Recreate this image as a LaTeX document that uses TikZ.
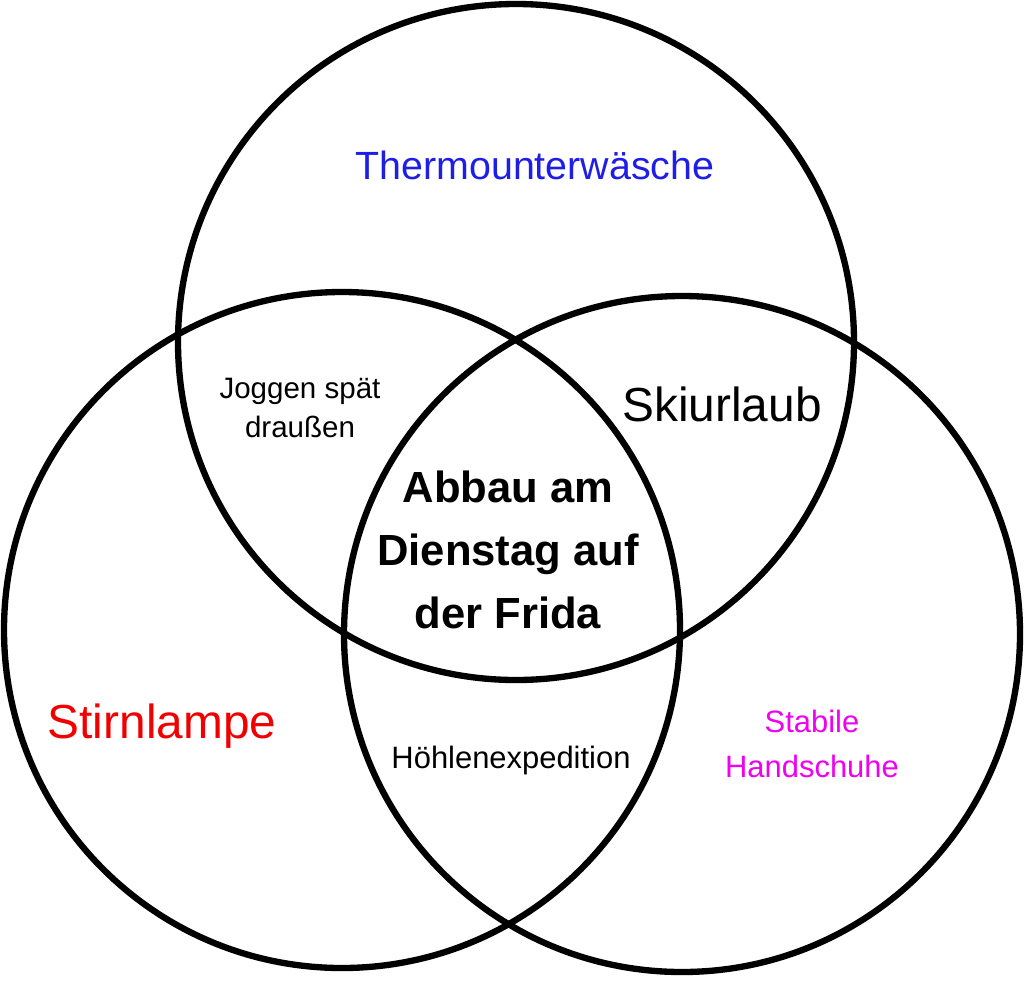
\documentclass[tikz,border=0pt]{standalone}
\usepackage{fontspec}
\setmainfont{Liberation Sans}
\begin{document}
\begin{tikzpicture}[x=0.025cm,y=-0.025cm,
  ring/.style={draw=black,line width=4.5pt},
  lbl/.style={align=center,inner sep=0pt}]
\useasboundingbox (0,0) rectangle (1024,980);
\node[ring,circle,minimum size=676*0.025cm] (top) at (516,342) {};
\node[ring,circle,minimum size=676*0.025cm] (left) at (342,630) {};
\node[ring,circle,minimum size=676*0.025cm] (right) at (682,634) {};
\node[lbl,text={rgb,255:red,30;green,30;blue,230},font=\fontsize{28}{30}\selectfont] (t1) at (535,165) {Thermounterwäsche};
\node[lbl,font=\fontsize{34}{36}\selectfont] (t2) at (722,404) {Skiurlaub};
\node[lbl,font=\fontsize{21}{28}\selectfont] (t3) at (300,408) {Joggen spät\\draußen};
\node[lbl,font=\bfseries\fontsize{31}{45}\selectfont] (t4) at (508,550) {Abbau am\\Dienstag auf\\der Frida};
\node[lbl,text={rgb,255:red,240;green,0;blue,0},font=\fontsize{34}{36}\selectfont] (t5) at (162,726) {Stirnlampe};
\node[lbl,font=\fontsize{22}{24}\selectfont] (t6) at (511,760) {Höhlenexpedition};
\node[lbl,text={rgb,255:red,240;green,0;blue,240},font=\fontsize{22}{32}\selectfont] (t7) at (812,744) {Stabile\\Handschuhe};
\end{tikzpicture}
\end{document}
